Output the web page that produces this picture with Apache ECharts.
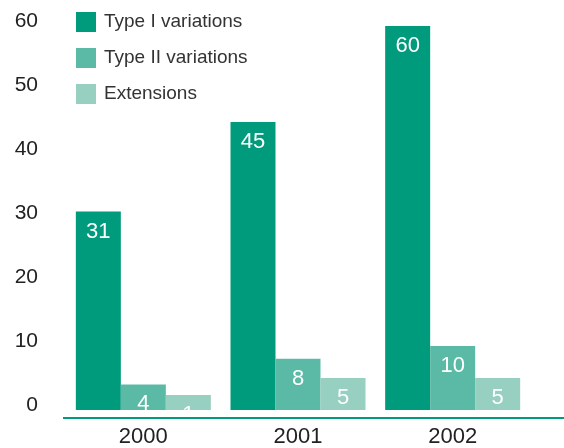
<!DOCTYPE html>
<html>
<head>
<meta charset="utf-8">
<script src="https://cdn.jsdelivr.net/npm/echarts@6/dist/echarts.min.js"></script>
<style>
  html, body { margin: 0; padding: 0; background: #fff; }
  #chart { width: 564px; height: 448px; }
</style>
</head>
<body>
<div id="chart"></div>
<script>
var years = ['2000', '2001', '2002'];
var typeOne = [31, 45, 60];
var typeTwo = [4, 8, 10];
var extensions = [1, 5, 5];
var seriesNames = ['Type I variations', 'Type II variations', 'Extensions'];
var colors = ['#009b7c', '#5bbaa6', '#97cfc0'];

var chart = echarts.init(document.getElementById('chart'));

function makeSeries(name, data, color) {
    return {
        name: name,
        type: 'bar',
        data: data,
        barWidth: 45,
        barGap: 0,
        barMinHeight: 15,
        itemStyle: { color: color },
        label: {
            show: true,
            position: 'insideTop',
            distance: 9,
            color: '#fff',
            fontSize: 22,
            fontFamily: 'Liberation Sans'
        }
    };
}

var option = {
    animation: false,
    textStyle: { fontFamily: 'Liberation Sans' },
    grid: { left: 66, right: 34, top: 26, bottom: 36 },
    legend: {
        orient: 'vertical',
        left: 76,
        top: 12,
        padding: 0,
        itemWidth: 20,
        itemHeight: 20,
        itemGap: 16,
        icon: 'rect',
        data: seriesNames,
        textStyle: { fontSize: 19, color: '#333', padding: [0, 0, 0, 3] }
    },
    xAxis: {
        type: 'category',
        data: years,
        axisLine: { show: false },
        axisTick: { show: false },
        axisLabel: { fontSize: 22, color: '#222', margin: 16 }
    },
    yAxis: {
        type: 'value',
        min: 0,
        max: 60,
        interval: 10,
        splitLine: { show: false },
        axisLine: { show: false },
        axisTick: { show: false },
        axisLabel: { fontSize: 21, color: '#222', margin: 28, verticalAlign: 'bottom', lineHeight: 10 }
    },
    graphic: [{
        type: 'line',
        z: 100,
        shape: { x1: 63, y1: 418, x2: 564, y2: 418 },
        style: { stroke: '#009b7c', lineWidth: 2 }
    }],
    series: [
        makeSeries(seriesNames[0], typeOne, colors[0]),
        makeSeries(seriesNames[1], typeTwo, colors[1]),
        makeSeries(seriesNames[2], extensions, colors[2])
    ]
};

chart.setOption(option);
</script>
</body>
</html>
